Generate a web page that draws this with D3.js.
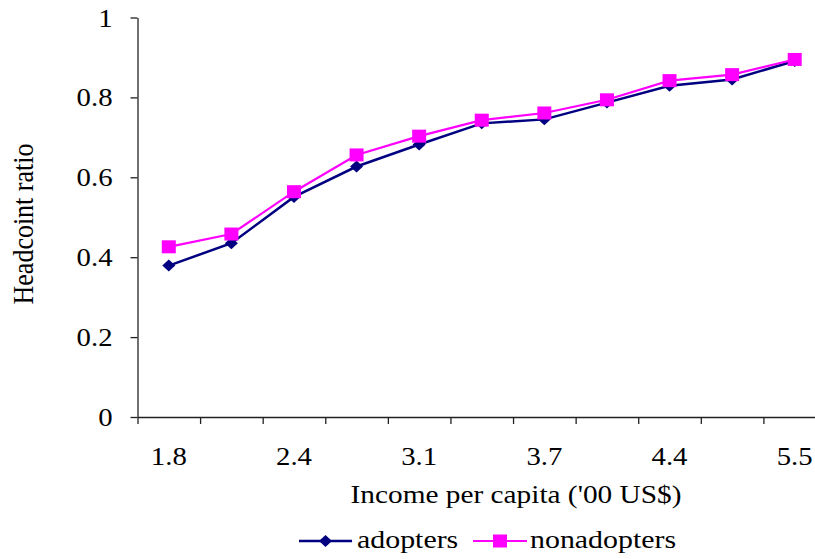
<!DOCTYPE html>
<html><head><meta charset="utf-8">
<script src="https://cdn.jsdelivr.net/npm/d3@7"></script>
<style>
html,body{margin:0;padding:0;background:#fff;}
svg text{font-family:"Liberation Serif",serif !important;fill:#000;}
</style></head>
<body>
<svg id="chart" width="815" height="559"></svg>
<script>
const tickLabels = ["1.8","","2.4","","3.1","","3.7","","4.4","","5.5"];
const adopters    = [0.379,0.435,0.551,0.627,0.682,0.735,0.745,0.787,0.829,0.845,0.891];
const nonadopters = [0.426,0.458,0.564,0.656,0.703,0.743,0.761,0.794,0.842,0.857,0.895];
const yTicks = [0,0.2,0.4,0.6,0.8,1];
const seriesNames = ["adopters","nonadopters"];
const xTitle = "Income per capita ('00 US$)";
const yTitle = "Headcoint ratio";

const STRETCH = 1.15, FS = 25;
const SERIF = "'Liberation Serif', serif";
const svg = d3.select("#chart");
const idx = d3.range(tickLabels.length);
const x = d3.scaleBand().domain(idx).range([137.5, 826]);
const xb = d3.scaleLinear().domain([0, idx.length]).range([137.5, 826]);
const y = d3.scaleLinear().domain([0,1]).range([417, 17.5]);

// x boundary ticks + axis line
const gxb = svg.append("g").attr("transform","translate(0,417)")
  .call(d3.axisBottom(xb).tickValues(d3.range(idx.length+1)).tickFormat("").tickSize(7).tickSizeOuter(0));
gxb.select(".domain").attr("stroke","#222").attr("stroke-width",1.3);
gxb.selectAll(".tick line").attr("stroke","#222").attr("stroke-width",1.3);

// x labels
const gx = svg.append("g").attr("transform","translate(0,417)")
  .call(d3.axisBottom(x).tickFormat(i => tickLabels[i]).tickSize(0));
gx.select(".domain").remove();
gx.attr("font-family",null).attr("font-size",null);
gx.selectAll("text").attr("y",null).attr("dy",null)
  .attr("transform",`translate(0,48) scale(${STRETCH},1)`)
  .style("font-family",SERIF).style("font-size",FS+"px");

// y axis
const gy = svg.append("g").attr("transform","translate(137.5,0)")
  .call(d3.axisLeft(y).tickValues(yTicks).tickFormat(d => (d===0||d===1)? String(d) : d.toFixed(1)).tickSize(7).tickSizeOuter(0));
gy.attr("font-family",null).attr("font-size",null);
gy.select(".domain").attr("stroke","#222").attr("stroke-width",1.3);
gy.selectAll(".tick line").attr("stroke","#222").attr("stroke-width",1.3);
gy.selectAll("text").attr("x",null).attr("dy","0.34em")
  .attr("transform",`translate(-25,0) scale(${STRETCH},1)`)
  .style("font-family",SERIF).style("font-size",FS+"px");

// lines
const cx = i => x(i)+x.bandwidth()/2;
const line = d3.line().x((d,i)=>cx(i)).y(d=>y(d));
svg.append("path").datum(adopters).attr("d",line).attr("fill","none").attr("stroke","#000080").attr("stroke-width",2.5);
svg.append("g").selectAll("path").data(adopters).join("path")
  .attr("d",(d,i)=>{const X=cx(i),Y=y(d);return `M${X},${Y-6}L${X+6.5},${Y}L${X},${Y+6}L${X-6.5},${Y}Z`;})
  .attr("fill","#000080");
svg.append("path").datum(nonadopters).attr("d",line).attr("fill","none").attr("stroke","#FF00FF").attr("stroke-width",2.2);
svg.append("g").selectAll("rect").data(nonadopters).join("rect")
  .attr("x",(d,i)=>cx(i)-7).attr("y",d=>y(d)-6.5).attr("width",14).attr("height",13).attr("fill","#FF00FF");

// helper: stretched text
function stext(X,Y,str,anchor,fs){
  return svg.append("text").attr("transform",`translate(${X},${Y}) scale(${STRETCH},1)`)
    .attr("text-anchor",anchor).style("font-family",SERIF).style("font-size",fs+"px").text(str);
}
// titles
stext(516,503,xTitle,"middle",FS+0.5);
svg.append("g").attr("transform",`translate(23,224) scale(${STRETCH},1) rotate(-90)`)
  .append("text").attr("text-anchor","middle").attr("dy","0.35em")
  .style("font-family",SERIF).style("font-size",(FS+1)+"px").text(yTitle);

// legend
const ly = 541;
const leg = [{name:seriesNames[0],x0:299,x1:352,c:"#000080",t:357},{name:seriesNames[1],x0:473,x1:527,c:"#FF00FF",t:530}];
leg.forEach((l,k)=>{
  svg.append("line").attr("x1",l.x0).attr("x2",l.x1).attr("y1",ly).attr("y2",ly).attr("stroke",l.c).attr("stroke-width",k?2.2:2.5);
  const m=(l.x0+l.x1)/2;
  if(k===0) svg.append("path").attr("d",`M${m},${ly-6}L${m+6.5},${ly}L${m},${ly+6}L${m-6.5},${ly}Z`).attr("fill",l.c);
  else svg.append("rect").attr("x",m-7).attr("y",ly-6.5).attr("width",14).attr("height",13).attr("fill",l.c);
  stext(l.t,ly+7,l.name,"start",FS+1);
});
</script>
</body></html>
